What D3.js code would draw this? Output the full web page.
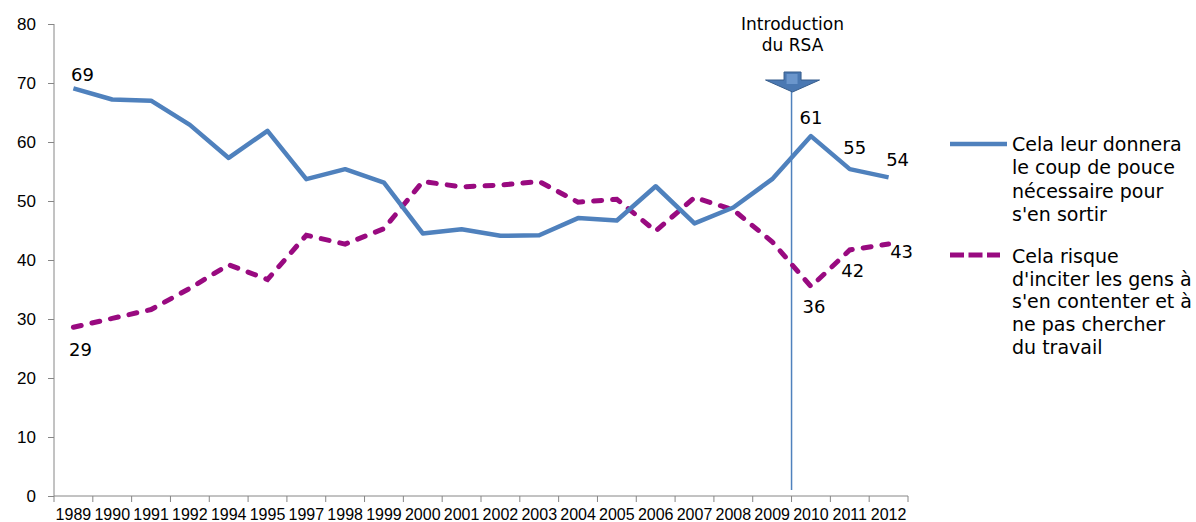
<!DOCTYPE html>
<html>
<head>
<meta charset="utf-8">
<script src="https://cdn.jsdelivr.net/npm/d3@7"></script>
<style>
  body { margin: 0; background: #fff; }
  svg { display: block; font-family: "DejaVu Sans", Verdana, sans-serif; }
  .axis path, .axis line { stroke: #868686; }
  .axis text { fill: #000; }
</style>
</head>
<body>
<svg id="chart" width="1196" height="522"></svg>
<script>
// categories (some years are missing in the survey)
const years = ["1989","1990","1991","1992","1994","1995","1997","1998","1999","2000","2001",
  "2002","2003","2004","2005","2006","2007","2008","2009","2010","2011","2012"];

// "Cela leur donnera le coup de pouce nécessaire pour s'en sortir"
const coupDePouce = [69.1, 67.2, 67.0, 62.9, 57.3, 61.9, 53.7, 55.4, 53.1, 44.5, 45.2,
  44.1, 44.2, 47.1, 46.7, 52.5, 46.2, 48.9, 53.7, 61.0, 55.4, 54.0];

// "Cela risque d'inciter les gens à s'en contenter..."
const risque = [28.6, 30.1, 31.6, 35.2, 39.2, 36.7, 44.2, 42.7, 45.3, 53.3, 52.4,
  52.7, 53.3, 49.8, 50.3, 44.9, 50.6, 48.5, 43.1, 35.5, 41.7, 42.7];

const yTicks = [0, 10, 20, 30, 40, 50, 60, 70, 80];

const legend1 = ["Cela leur donnera", "le coup de pouce", "nécessaire pour", "s'en sortir"];
const legend2 = ["Cela risque", "d'inciter les gens à", "s'en contenter et à", "ne pas chercher", "du travail"];

// labelled points: [series, year, label, dx, dy]
const pointLabels = [
  ["a", "1989", "69", 9, -7],
  ["a", "2010", "61", 0, -12],
  ["a", "2011", "55", 5, -15],
  ["a", "2012", "54", 9, -11],
  ["b", "1989", "29", 7, 29],
  ["b", "2010", "36", 3, 26],
  ["b", "2011", "42", 3, 27],
  ["b", "2012", "43", 13, 14]
];

const annotYear = "2010";

let svg = d3.select('#chart'),
    mLeft = 54, mRight = 908, mTop = 24, mBottom = 496;

let x = d3.scaleBand().domain(years).range([mLeft, mRight]).padding(0);
let y = d3.scaleLinear().domain([0, 80]).range([mBottom, mTop]);
let cx = d => x(d) + x.bandwidth() / 2;

// y axis
let yAxis = svg.append('g').attr('class', 'axis')
    .attr('transform', 'translate(' + mLeft + ',0)')
    .call(d3.axisLeft(y).tickValues(yTicks).tickSize(6).tickPadding(12));
yAxis.selectAll('text').style('font-size', '17px');
yAxis.select('.domain').attr('d', 'M0,' + mTop + 'V' + mBottom);

// x axis, labels in band centres, ticks at band edges
let xAxis = svg.append('g').attr('class', 'axis')
    .attr('transform', 'translate(0,' + mBottom + ')')
    .call(d3.axisBottom(x).tickSize(0).tickPadding(13));
xAxis.selectAll('text').style('font-size', '16px');
xAxis.select('.domain').attr('d', 'M' + mLeft + ',0H' + mRight);
xAxis.selectAll('.edge')
    .data(years.map(d => x(d)).concat([mRight]))
    .enter().append('line')
    .attr('x1', d => d).attr('x2', d => d)
    .attr('y1', 0).attr('y2', 6)
    .attr('stroke', '#868686');

// vertical RSA line
let vx = x(annotYear);
svg.append('line')
    .attr('x1', vx).attr('x2', vx)
    .attr('y1', 88).attr('y2', 490)
    .attr('stroke', '#4f81bd').attr('stroke-width', 1.5);

// block arrow
let arrow = svg.append('g').attr('transform', 'translate(' + (vx + 1) + ',0)');
arrow.append('path')
    .attr('d', 'M-8.5,72H8.5V80H27L0,92L-27,80H-8.5Z')
    .attr('fill', '#4a78b2').attr('stroke', '#375d8c').attr('stroke-width', 1);
arrow.append('rect')
    .attr('x', -6).attr('y', 74).attr('width', 11).attr('height', 10)
    .attr('fill', '#6b96cc');

svg.append('text').attr('x', vx + 1).attr('y', 30).attr('text-anchor', 'middle')
    .style('font-size', '17px').text('Introduction');
svg.append('text').attr('x', vx + 1).attr('y', 51).attr('text-anchor', 'middle')
    .style('font-size', '17px').text('du RSA');

// lines
let line = d3.line().x((d, i) => cx(years[i])).y(d => y(d));

svg.append('path').datum(risque)
    .attr('d', line)
    .attr('fill', 'none')
    .attr('stroke', '#990a80')
    .attr('stroke-width', 5)
    .attr('stroke-dasharray', '8,11')
    .attr('stroke-linecap', 'round');

svg.append('path').datum(coupDePouce)
    .attr('d', line)
    .attr('fill', 'none')
    .attr('stroke', '#4f81bd')
    .attr('stroke-width', 4.5)
    .attr('stroke-linejoin', 'round');

// point labels
svg.selectAll('.plabel')
    .data(pointLabels)
    .enter().append('text')
    .attr('class', 'plabel')
    .attr('x', d => cx(d[1]) + d[3])
    .attr('y', d => y((d[0] === "a" ? coupDePouce : risque)[years.indexOf(d[1])]) + d[4])
    .attr('text-anchor', 'middle')
    .style('font-size', '18px')
    .text(d => d[2]);

// legend
let lg = svg.append('g');
lg.append('line').attr('x1', 950).attr('x2', 1007).attr('y1', 144).attr('y2', 144)
    .attr('stroke', '#4f81bd').attr('stroke-width', 4.5);
lg.append('line').attr('x1', 950).attr('x2', 1000).attr('y1', 255).attr('y2', 255)
    .attr('stroke', '#990a80').attr('stroke-width', 5)
    .attr('stroke-dasharray', '14,4.5');

lg.selectAll('.l1').data(legend1).enter().append('text')
    .attr('x', 1012).attr('y', (d, i) => 151 + i * 23.3)
    .style('font-size', '19px').text(d => d);
lg.selectAll('.l2').data(legend2).enter().append('text')
    .attr('x', 1012).attr('y', (d, i) => 263 + i * 22.7)
    .style('font-size', '19px').text(d => d);
</script>
</body>
</html>
